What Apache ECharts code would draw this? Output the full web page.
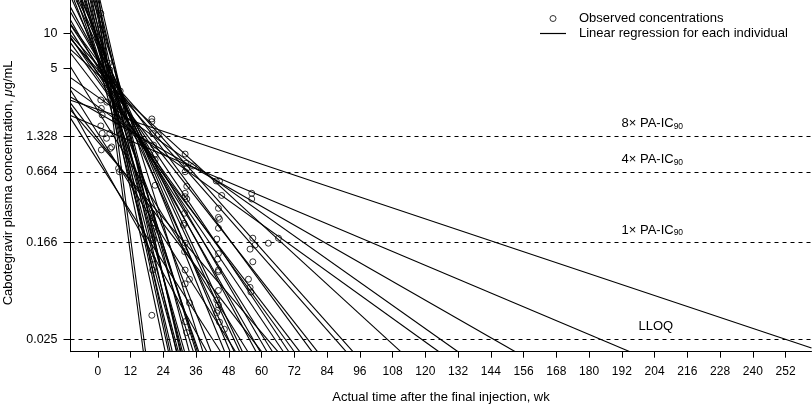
<!DOCTYPE html>
<html><head><meta charset="utf-8">
<script src="https://cdn.jsdelivr.net/npm/echarts@6/dist/echarts.min.js"></script>
<style>html,body{margin:0;padding:0;background:#fff}#c{width:812px;height:404px}</style>
</head><body><div id="c"></div>
<script>
// ---- data ----
const xTicks = [0,12,24,36,48,60,72,84,96,108,120,132,144,156,168,180,192,204,216,228,240,252];
const yTicks = [0.025, 0.166, 0.664, 1.328, 5, 10];
const yTickLabels = ['0.025','0.166','0.664','1.328','5','10'];

const refLevels = [1.328, 0.664, 0.166, 0.025];
const refLabels = ['8× PA-IC', '4× PA-IC', '1× PA-IC', 'LLOQ'];
const refSubs = ['90', '90', '90', ''];

// observed concentrations [week, µg/mL]
const observed = [
  [1.1,14.8],[1.1,11.8],[1.1,9.7],[1.1,4.9],[1.1,2.71],[1.3,2.3],[1.6,2.02],[1.1,1.63],[1.6,1.41],[1.3,1.02],
  [4.0,5.56],[4.4,4.88],[5.2,4.0],[3.2,1.28],[4.4,1.41],[4.6,1.05],[5.1,1.08],[3.3,2.6],
  [8.2,3.23],[8.0,2.87],[8.6,2.71],[7.6,0.71],[7.9,0.665],[6.5,1.9],
  [19.8,1.87],[19.8,1.77],[20.1,1.41],[22.2,1.37],[20.4,1.12],[21,0.94],[21,0.84],[21,0.51],[19.8,0.295],[19.8,0.27],
  [20.1,0.242],[20.1,0.22],[20.4,0.206],[20.1,0.181],[20.4,0.175],[20.1,0.120],[20.1,0.097],[19.8,0.040],
  [32,0.94],[32.3,0.785],[35,0.745],[32.6,0.71],[32,0.665],[32.6,0.50],[32.6,0.39],[32,0.436],[32,0.408],[31.8,0.295],
  [31.6,0.242],[31.4,0.234],[32,0.164],[31.8,0.139],[32,0.097],[33.6,0.081],[32,0.074],[33.6,0.051],[32,0.0353],[32.6,0.0285],
  [43.4,0.555],[44.6,0.555],[45.4,0.418],[44.2,0.325],[44.2,0.272],[44.6,0.262],[44.2,0.22],[43.6,0.178],[43.9,0.120],
  [44.2,0.134],[44.2,0.097],[44.2,0.094],[44.2,0.065],[43.6,0.054],[44.2,0.049],[43.9,0.044],[43.6,0.042],[44.6,0.035],[46.4,0.0304],
  [56.4,0.436],[56.4,0.39],[56.8,0.181],[57.6,0.158],[55.8,0.146],[56.8,0.114],[55.2,0.081],[55.8,0.069],[56.1,0.063],
  [62.5,0.164],[66.2,0.181]
];

// individual regression lines: [[week, µg/mL] start, [week, µg/mL] end] (read at plot edges)
const regressionLines = [
  [[-0.3,19.2],[16.7,0.0196]], [[0.5,19.2],[17.5,0.0196]], [[-2.8,19.2],[24.7,0.0196]], [[-2.1,19.2],[25.9,0.0196]],
  [[-1.4,19.2],[26.5,0.0196]], [[-3.6,19.2],[27.3,0.0196]], [[-1.0,19.2],[28.8,0.0196]], [[-4.3,19.2],[29.5,0.0196]],
  [[0.8,19.2],[30.2,0.0196]], [[-2.5,19.2],[31,0.0196]], [[-5.0,19.2],[31.8,0.0196]], [[-0.6,19.2],[33.5,0.0196]],
  [[-6.5,19.2],[35,0.0196]], [[-3.6,19.2],[36,0.0196]], [[-7.6,19.2],[37,0.0196]], [[-1.7,19.2],[38.5,0.0196]],
  [[-8.7,19.2],[41.5,0.0196]], [[-5.7,19.2],[46.5,0.0196]], [[-6.0,19.2],[48.5,0.0196]], [[-9.4,19.2],[50,0.0196]],
  [[-8.0,19.2],[52,0.0196]], [[-7.2,19.2],[53,0.0196]], [[-6.1,19.2],[29,0.0196]], [[0.1,19.2],[30.5,0.0196]],
  [[-4.7,19.2],[36.5,0.0196]],
  [[-10,16.7],[58,0.0196]], [[-10,13.0],[59.5,0.0196]], [[-10,15.2],[62,0.0196]], [[-10,10.7],[64,0.0196]],
  [[-10,9.3],[68,0.0196]], [[-10,11.8],[70,0.0196]], [[-10,8.3],[72,0.0196]], [[-10,6.8],[74,0.0196]],
  [[-10,12.0],[78.5,0.0196]], [[-10,9.1],[80.5,0.0196]], [[-10,9.0],[91,0.0196]], [[-10,9.7],[93.5,0.0196]],
  [[-10,7.3],[111,0.0196]], [[-10,3.5],[125,0.0196]], [[-10,4.2],[132,0.0196]], [[-10,2.87],[153,0.0196]],
  [[-10,2.0],[195,0.0196]], [[-10,2.7],[261.5,0.0211]],
  [[-10,2.55],[60,0.0196]], [[-10,2.23],[66,0.0196]], [[-10,1.9],[45,0.0196]], [[-10,2.36],[40,0.0196]],
  [[-10,3.3],[50.5,0.0196]], [[-10,5.2],[55,0.0196]]
];

// ---- chart ----
const FONT = '"Liberation Sans", Arial, Helvetica, sans-serif';
const LINE_NAME = 'Linear regression for each individual';
const PT_NAME = 'Observed concentrations';
const chart = echarts.init(document.getElementById('c'), null, {renderer: 'canvas'});

const lineSeries = regressionLines.map(seg => ({
  type: 'line', name: LINE_NAME, data: seg, symbol: 'none', showSymbol: false,
  lineStyle: {color: '#000', width: 1.1}, itemStyle: {color: '#000'},
  silent: true, z: 2, animation: false, clip: true
}));

const markData = refLevels.map((v, i) => ({
  yAxis: v,
  label: {
    formatter: refSubs[i] ? '{t|' + refLabels[i] + '}{s|' + refSubs[i] + '}' : '{t|' + refLabels[i] + '}',
    padding: [0, 0, 0, refSubs[i] ? 546 : 563]
  }
}));

const option = {
  animation: false,
  textStyle: {fontFamily: FONT},
  tooltip: {show: false},
  grid: {left: 70.5, right: 0.5, top: 0, bottom: 52.3, outerBoundsMode: 'none', containLabel: false},
  legend: {
    orient: 'vertical', left: 540, top: 12, padding: 0, itemWidth: 26, itemHeight: 6, itemGap: 2,
    selectedMode: false,
    textStyle: {color: '#000', fontSize: 13, fontFamily: FONT, padding: [0, 0, 0, 8]},
    data: [
      {name: PT_NAME, icon: 'circle', itemStyle: {color: '#fff', borderColor: '#000', borderWidth: 1}},
      {name: LINE_NAME, icon: 'path://M0,0H26V1.2H0Z', itemStyle: {color: '#000', borderWidth: 0}}
    ]
  },
  xAxis: {
    type: 'value', min: -10, max: 261.5,
    name: 'Actual time after the final injection, wk', nameLocation: 'middle', nameGap: 39,
    nameTextStyle: {color: '#000', fontSize: 13, fontFamily: FONT},
    axisLine: {show: true, onZero: false, lineStyle: {color: '#000', width: 1}},
    axisTick: {show: true, length: 6, customValues: xTicks, lineStyle: {color: '#000', width: 1}},
    axisLabel: {customValues: xTicks, color: '#000', fontSize: 12, margin: 14, fontFamily: FONT},
    splitLine: {show: false}
  },
  yAxis: {
    type: 'log', min: 0.0196, max: 19.2,
    name: '{n|Cabotegravir plasma concentration, }{i|μ}{n|g/mL}', nameLocation: 'middle', nameGap: 56,
    nameTextStyle: {
      color: '#000', fontSize: 13, fontFamily: FONT, padding: [0, 14, 0, 0],
      rich: {
        n: {color: '#000', fontSize: 13, fontFamily: FONT},
        i: {color: '#000', fontSize: 13, fontFamily: FONT, fontStyle: 'italic'}
      }
    },
    axisLine: {show: true, onZero: false, lineStyle: {color: '#000', width: 1}},
    axisTick: {show: true, length: 7, customValues: yTicks, lineStyle: {color: '#000', width: 1}},
    axisLabel: {
      customValues: yTicks, color: '#000', fontSize: 12.5, margin: 13, fontFamily: FONT,
      formatter: function (v) {
        let best = 0, bd = Infinity;
        yTicks.forEach((t, i) => { const d = Math.abs(Math.log(t) - Math.log(v)); if (d < bd) { bd = d; best = i; } });
        return yTickLabels[best];
      }
    },
    splitLine: {show: false}
  },
  series: [
    ...lineSeries,
    {
      type: 'scatter', name: PT_NAME, data: observed, symbol: 'circle', symbolSize: 6,
      itemStyle: {color: 'rgba(255,255,255,0)', borderColor: '#000', borderWidth: 1},
      z: 3, silent: true, animation: false,
      markLine: {
        silent: true, symbol: ['none', 'none'], animation: false, precision: 4,
        lineStyle: {color: '#000', type: [4, 4], width: 1},
        label: {
          show: true, position: 'insideStartTop', color: '#000',
          rich: {
            t: {color: '#000', fontSize: 13, fontFamily: FONT, lineHeight: 15},
            s: {color: '#000', fontSize: 8.5, fontFamily: FONT, lineHeight: 15, verticalAlign: 'bottom'}
          }
        },
        data: markData
      }
    }
  ]
};
chart.setOption(option);
</script>
</body></html>
